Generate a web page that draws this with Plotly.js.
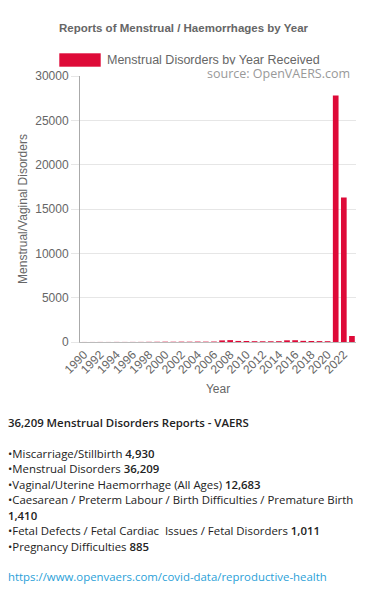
<!DOCTYPE html>
<html>
<head>
<meta charset="utf-8">
<script src="https://cdn.plot.ly/plotly-3.0.1.min.js"></script>
<style>
  html, body { margin: 0; padding: 0; background: #fff; }
  body { width: 367px; height: 591px; position: relative; overflow: hidden; }
  #chart { position: absolute; left: 0; top: 0; width: 367px; height: 400px; }
  #info { position: absolute; left: 8px; top: 415px; font-family: "Open Sans", sans-serif; font-size: 11.4px; line-height: 15.5px; color: #222; white-space: nowrap; }
  #info p { margin: 0; }
  #info b { font-weight: 600; }
  #info .gap { height: 15px; }
  #info a { color: #2a9fd8; text-decoration: none; }
</style>
</head>
<body>
<div id="chart"></div>
<div id="info">
  <p><b>36,209 Menstrual Disorders Reports - VAERS</b></p>
  <div class="gap"></div>
  <p>•Miscarriage/Stillbirth <b>4,930</b></p>
  <p>•Menstrual Disorders <b>36,209</b></p>
  <p>•Vaginal/Uterine Haemorrhage (All Ages) <b>12,683</b></p>
  <p>•Caesarean / Preterm Labour / Birth Difficulties / Premature Birth<br><b>1,410</b></p>
  <p>•Fetal Defects / Fetal Cardiac&nbsp; Issues / Fetal Disorders <b>1,011</b></p>
  <p>•Pregnancy Difficulties <b>885</b></p>
  <div class="gap"></div>
  <p><a href="https://www.openvaers.com/covid-data/reproductive-health">https://www.openvaers.com/covid-data/reproductive-health</a></p>
</div>
<script>
var years = [1990,1991,1992,1993,1994,1995,1996,1997,1998,1999,2000,2001,2002,2003,2004,2005,2006,2007,2008,2009,2010,2011,2012,2013,2014,2015,2016,2017,2018,2019,2020,2021,2022,2023];
var reports = [5,5,8,6,10,8,10,12,20,25,35,30,40,35,45,40,50,180,210,120,110,90,80,80,90,190,200,130,110,100,90,27800,16300,680];
var tickYears = [1990,1992,1994,1996,1998,2000,2002,2004,2006,2008,2010,2012,2014,2016,2018,2020,2022];
var tickLabels = tickYears.map(String);
var gridBounds = [1989.5,1991.5,1993.5,1995.5,1997.5,1999.5,2001.5,2003.5,2005.5,2006.5,2007.5,2009.5,2011.5,2013.5,2015.5,2017.5,2019.5,2021.5,2023.5];
var seriesName = 'Menstrual Disorders by Year Received';
var barColor = 'rgb(222,10,56)';

var L = 80, R = 11, T = 76, B = 58, W = 367, H = 400;
var pw = W - L - R, ph = H - T - B;
function px(x) { return (x - L) / pw; }
function py(y) { return (H - B - y) / ph; }

var trace = {
  type: 'bar', x: years, y: reports, name: seriesName,
  marker: { color: barColor }, showlegend: false, hoverinfo: 'x+y'
};

var layout = {
  width: W, height: H,
  margin: { l: L, r: R, t: T, b: B, pad: 0 },
  paper_bgcolor: '#fff', plot_bgcolor: '#fff',
  font: { family: 'Liberation Sans, Arial, sans-serif', size: 12, color: '#666' },
  bargap: 0.3,
  title: {
    text: '<b>Reports of Menstrual / Haemorrhages by Year</b>',
    font: { family: 'Liberation Sans, Arial, sans-serif', size: 11.5, color: '#666' },
    x: 0.5, xanchor: 'center', xref: 'container',
    y: 1 - 28 / H, yanchor: 'middle', yref: 'container'
  },
  xaxis: {
    type: 'linear', range: [1989.5, 2023.5], fixedrange: true,
    tickmode: 'array', tickvals: tickYears, ticktext: tickLabels,
    tickangle: -45, ticks: '', showgrid: false, zeroline: false,
    showline: true, linecolor: '#bbb', linewidth: 1,
    tickfont: { size: 12, color: '#666' },
    title: { text: 'Year', font: { size: 12, color: '#666' }, standoff: 8 }
  },
  xaxis2: {
    type: 'linear', range: [1989.5, 2023.5], overlaying: 'x', anchor: 'y',
    tickmode: 'array', tickvals: gridBounds, showticklabels: false,
    showgrid: true, gridcolor: '#e6e6e6', gridwidth: 1,
    ticks: 'outside', ticklen: 5, tickcolor: '#e6e6e6', zeroline: false, showline: false
  },
  yaxis: {
    range: [0, 30000], dtick: 5000, tick0: 0, tickformat: 'd', fixedrange: true,
    showgrid: true, gridcolor: '#e6e6e6', gridwidth: 1,
    ticks: 'outside', ticklen: 8, tickcolor: '#e6e6e6',
    showline: true, linecolor: '#aaa', linewidth: 1, zeroline: false,
    tickfont: { size: 12, color: '#666' },
    title: { text: 'Menstrual/Vaginal Disorders', font: { size: 12, color: '#666' }, standoff: 5 }
  },
  shapes: [{
    type: 'rect', xref: 'paper', yref: 'paper',
    x0: px(59), x1: px(101), y0: py(67), y1: py(53),
    fillcolor: barColor, line: { color: 'rgba(255,255,255,0.6)', width: 1 }
  }],
  annotations: [{
    text: seriesName, xref: 'paper', yref: 'paper', x: px(105), y: py(60),
    xanchor: 'left', yanchor: 'middle', showarrow: false,
    font: { family: 'Liberation Sans, Arial, sans-serif', size: 12.5, color: '#666' }
  }, {
    text: 'source: OpenVAERS.com', xref: 'paper', yref: 'paper', x: px(351), y: py(73),
    xanchor: 'right', yanchor: 'middle', showarrow: false, bgcolor: '#fff', borderpad: 0,
    font: { family: 'Open Sans, sans-serif', size: 12.5, color: '#999' }
  }]
};

Plotly.newPlot('chart', [trace], layout, { displayModeBar: false, staticPlot: true });
</script>
</body>
</html>
